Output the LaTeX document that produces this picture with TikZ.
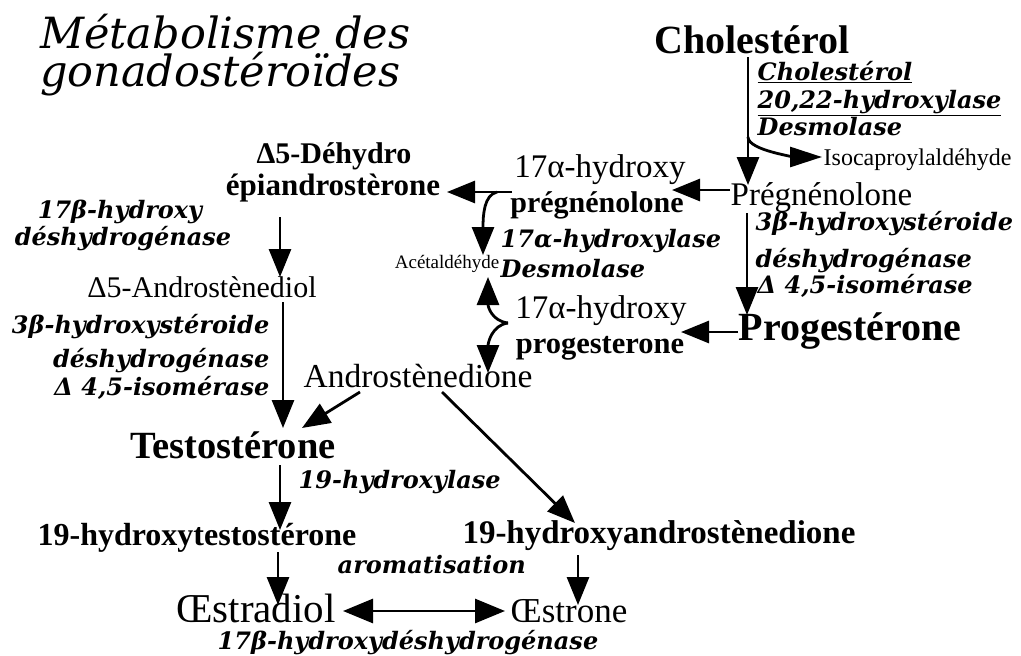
\documentclass[tikz,border=0pt]{standalone}
\usepackage{fontspec}
\setmainfont{Liberation Serif}
\newfontfamily\enzfont{DejaVu Serif}
\usetikzlibrary{arrows.meta,calc}
\tikzset{
  fl/.style={line width=2.8pt,-{Triangle[length=28pt,width=22pt]}},
  fld/.style={line width=2.8pt,{Triangle[length=30pt,width=24pt]}-{Triangle[length=30pt,width=24pt]}},
  cmp/.style={inner sep=0.5pt,font=\fontsize{#1}{#1}\selectfont\bfseries},
  cmpn/.style={inner sep=0.5pt,font=\fontsize{#1}{#1}\selectfont},
  enz/.style={inner sep=0.5pt,font=\enzfont\fontsize{#1}{#1}\selectfont\bfseries\itshape},
  titre/.style={inner sep=0pt,align=left,font=\enzfont\fontsize{43}{38}\selectfont\itshape},
}

\begin{document}
\begin{tikzpicture}[x=1pt,y=-1pt]
\fill[white] (0,0) rectangle (1021,656);
\useasboundingbox (0,0) rectangle (1021,656);

% titre
\node[titre,anchor=north west] (titre) at (40,14) {Métabolisme des\\gonadostéroïdes};

% ================= composes =================
\node[cmp=40,anchor=base] (cholesterol) at (752,53) {Cholestérol};
\node[cmpn=33,anchor=base west] (pregnenolone) at (730,205) {Prégnénolone};
\node[cmpn=24,anchor=base west] (isocapro) at (823,165) {Isocaproylaldéhyde};
\node[cmpn=33,anchor=base] (ohpregA) at (600,177) {17α-hydroxy};
\node[cmp=30,anchor=base] (ohpregB) at (597,212) {prégnénolone};
\node[cmp=30,anchor=base] (dheaA) at (334,163) {Δ5-Déhydro};
\node[cmp=31,anchor=base] (dheaB) at (333,195) {épiandrostèrone};
\node[cmpn=30,anchor=base] (adiol) at (202,297) {Δ5-Androstènediol};
\node[cmpn=19,anchor=base east] (acetal) at (500,268) {Acétaldéhyde};
\node[cmpn=33,anchor=base] (ohprogA) at (601,318) {17α-hydroxy};
\node[cmp=30.5,anchor=base] (ohprogB) at (600,353) {progesterone};
\node[cmp=40,anchor=base west] (progesterone) at (738,340) {Progestérone};
\node[cmpn=33.5,anchor=base] (androstenedione) at (418,387) {Androstènedione};
\node[cmp=38.5,anchor=base] (testosterone) at (233,458) {Testostérone};
\node[cmp=32,anchor=base] (ohtesto) at (197,545) {19-hydroxytestostérone};
\node[cmp=33,anchor=base] (ohandro) at (659,543) {19-hydroxyandrostènedione};
\node[cmpn=41,anchor=base] (estradiol) at (256,622) {Œstradiol};
\node[cmpn=35,anchor=base] (estrone) at (569,622) {Œstrone};

% ================= enzymes =================
\node[enz=24,anchor=base west] (desmA) at (757,80) {\underline{Cholestérol}};
\node[enz=24,anchor=base west] (desmB) at (757,108) {\underline{20,22-hydroxylase}};
\node[enz=24,anchor=base west] (desmC) at (757,135) {Desmolase};
\node[enz=24,anchor=base] (hsdA) at (120,218) {17β-hydroxy};
\node[enz=24,anchor=base] (hsdB) at (123,245) {déshydrogénase};
\node[enz=24,anchor=base west] (lyaseA) at (500,247) {17α-hydroxylase};
\node[enz=24,anchor=base west] (lyaseB) at (500,277) {Desmolase};
\node[enz=24,anchor=base west] (isoA) at (755,230) {3β-hydroxystéroide};
\node[enz=24,anchor=base west] (isoB) at (755,267) {déshydrogénase};
\node[enz=24,anchor=base west] (isoC) at (757,293) {Δ 4,5-isomérase};
\node[enz=24,anchor=base east] (isoLA) at (270,333) {3β-hydroxystéroide};
\node[enz=24,anchor=base east] (isoLB) at (270,367) {déshydrogénase};
\node[enz=24,anchor=base east] (isoLC) at (270,395) {Δ 4,5-isomérase};
\node[enz=24,anchor=base west] (hydrox19) at (298,488) {19-hydroxylase};
\node[enz=24,anchor=base west] (arom) at (337,573) {aromatisation};
\node[enz=24,anchor=base west] (hsdE) at (217,649) {17β-hydroxydéshydrogénase};

% ================= fleches =================
\coordinate (bifCh) at ($(cholesterol.base)+(-4,84)$);
\coordinate (bifA) at ($(ohpregB.base)+(-100,-20)$);
\coordinate (bifB) at ($(ohprogA.base)+(-93,5)$);

\draw[fl] ($(cholesterol.base)+(-4,4)$) -- ($(pregnenolone.base west)+(18,-20)$);
\draw[fl,-{Triangle[length=32pt,width=20pt]}] (bifCh) .. controls +(0,14) and +(-22,0) .. ($(isocapro.base west)+(-1,-8)$);
\draw[fl] ($(pregnenolone.base west)+(0,-15)$) -- ($(ohpregA.base)+(72,13)$);
\draw[fl] ($(pregnenolone.base west)+(17,8)$) -- ($(progesterone.base west)+(9,-25)$);
\draw[fl] ($(ohpregB.base)+(-85,-20)$) -- ($(dheaB.base)+(114,-3)$);
\draw[fl] (bifA) .. controls +(-13,3) and +(0,-40) .. ($(acetal.base east)+(-17,-13)$);
\draw[fl] (bifB) .. controls +(-16,-2) and +(0,30) .. ($(acetal.base east)+(-12,9)$);
\draw[fl] (bifB) .. controls +(-16,2) and +(0,-30) .. ($(androstenedione.base)+(70,-14)$);
\draw[fl] ($(progesterone.base west)+(0,-8)$) -- ($(ohprogA.base)+(80,14)$);
\draw[fl] ($(dheaB.base)+(-53,22)$) -- ($(adiol.base)+(78,-20)$);
\draw[fl] ($(adiol.base)+(81,5)$) -- ($(testosterone.base)+(50,-30)$);
\draw[fl] ($(androstenedione.base)+(-58,5)$) -- ($(testosterone.base)+(69,-30)$);
\draw[fl] ($(androstenedione.base)+(24,5)$) -- ($(ohandro.base)+(-84,-20)$);
\draw[fl] ($(testosterone.base)+(47,7)$) -- ($(ohtesto.base)+(83,-15)$);
\draw[fl] ($(ohtesto.base)+(81,7)$) -- ($(estradiol.base)+(22,-17)$);
\draw[fl] ($(ohandro.base)+(-81,12)$) -- ($(estrone.base)+(9,-17)$);
\draw[fld] ($(estradiol.base)+(87,-11)$) -- ($(estrone.base)+(-64,-11)$);

\end{tikzpicture}
\end{document}
